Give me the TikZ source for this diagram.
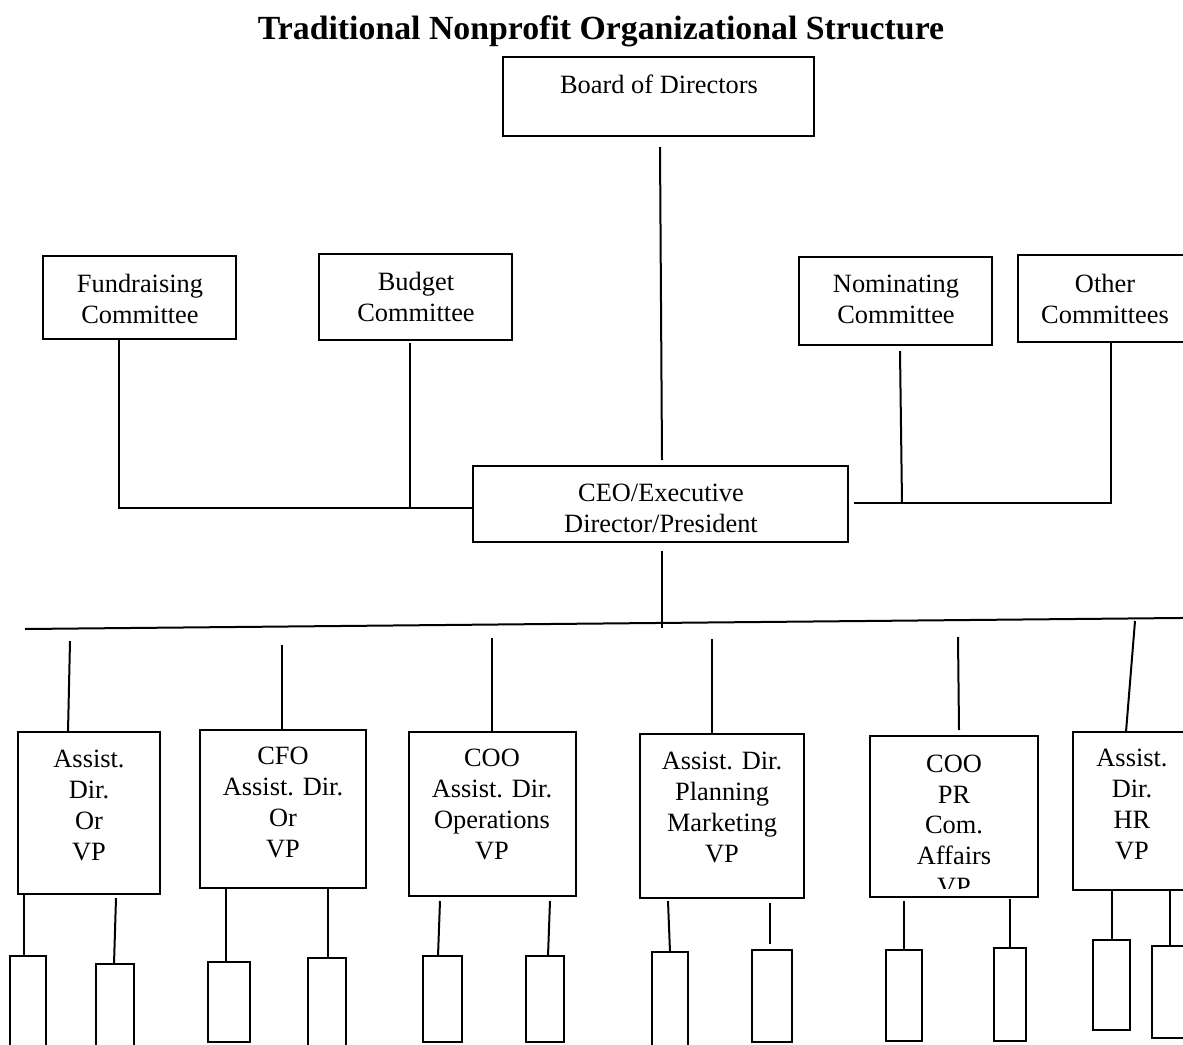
\documentclass[tikz,border=0pt]{standalone}
\usepackage{fontspec}
\setmainfont{Liberation Serif}
\usetikzlibrary{fit}
\begin{document}
\begin{tikzpicture}[x=0.5pt,y=-0.5pt,
  box/.style={draw,line width=1pt,inner sep=0pt,rectangle},
  lbl/.style={font=\fontsize{13.2}{15.4}\selectfont,align=center,inner sep=0pt},
  ttl/.style={font=\fontsize{16.9}{19.3}\selectfont\bfseries,inner sep=0pt},
  conn/.style={line width=1pt}]
\fill[white] (0,0) rectangle (1183,1044);
\clip (0,0) rectangle (1183,1044);
% title
\node[ttl] (title) at (601,32) {\strut Traditional Nonprofit Organizational Structure};
% top boxes
\node[box,fit={(503,57) (814,136)}] (board) {};
\node[box,fit={(43,256) (236,339)}] (fund) {};
\node[box,fit={(319,254) (512,340)}] (budget) {};
\node[box,fit={(799,257) (992,345)}] (nom) {};
\node[box,fit={(1018,255) (1200,342)}] (other) {};
\node[box,fit={(473,466) (848,542)}] (ceo) {};
\node[lbl] (boardT) at (659,87.5) {\strut Board of Directors};
\node[lbl] (fundT) at (140,301.5) {\strut Fundraising\\\strut Committee};
\node[lbl] (budgetT) at (416,300) {\strut Budget\\\strut Committee};
\node[lbl] (nomT) at (896,301.5) {\strut Nominating\\\strut Committee};
\node[lbl] (otherT) at (1105,301.5) {\strut Other\\\strut Committees};
\node[lbl] (ceoT) at (661,510.5) {\strut CEO/Executive\\\strut Director/President};
% VP boxes
\node[box,fit={(18,732) (160,894)}] (b1) {};
\node[box,fit={(200,730) (366,888)}] (b2) {};
\node[box,fit={(409,732) (576,896)}] (b3) {};
\node[box,fit={(640,734) (804,898)}] (b4) {};
\node[box,fit={(870,736) (1038,897)}] (b5) {};
\node[box,fit={(1073,732) (1215,890)}] (b6) {};
\node[lbl] (b1T) at (89,808) {\strut Assist.\\\strut Dir.\\\strut Or\\\strut VP};
\node[lbl] (b2T) at (283,805) {\strut CFO\\\strut Assist. Dir.\\\strut Or\\\strut VP};
\node[lbl] (b3T) at (492,807) {\strut COO\\\strut Assist. Dir.\\\strut Operations\\\strut VP};
\node[lbl] (b4T) at (722,810) {\strut Assist. Dir.\\\strut Planning\\\strut Marketing\\\strut VP};
\begin{scope}
\clip (872,738) rectangle (1036,888);
\node[lbl] (b5T) at (954,827.7) {\strut COO\\\strut PR\\\strut Com.\\\strut Affairs\\\strut VP};
\end{scope}
\node[lbl] (b6T) at (1132,807) {\strut Assist.\\\strut Dir.\\\strut HR\\\strut VP};
% small boxes
\node[box,fit={(10,956) (46,1048)}] (s1a) {};
\node[box,fit={(96,964) (134,1048)}] (s1b) {};
\node[box,fit={(208,962) (250,1042)}] (s2a) {};
\node[box,fit={(308,958) (346,1048)}] (s2b) {};
\node[box,fit={(423,956) (462,1042)}] (s3a) {};
\node[box,fit={(526,956) (564,1042)}] (s3b) {};
\node[box,fit={(652,952) (688,1048)}] (s4a) {};
\node[box,fit={(752,950) (792,1042)}] (s4b) {};
\node[box,fit={(886,950) (922,1041)}] (s5a) {};
\node[box,fit={(994,948) (1026,1041)}] (s5b) {};
\node[box,fit={(1093,940) (1130,1030)}] (s6a) {};
\node[box,fit={(1152,946) (1215,1038)}] (s6b) {};
% connector end points
\coordinate (boardD) at (660,147);
\coordinate (ceoU) at (662,460);
\coordinate (fundD) at (119,339);
\coordinate (fundJ) at (119,508);
\coordinate (budgetD) at (410,343);
\coordinate (budgetJ) at (410,508);
\coordinate (nomD) at (900,351);
\coordinate (nomJ) at (902,503);
\coordinate (otherD) at (1111,342);
\coordinate (otherJ) at (1111,503);
\coordinate (ceoR) at (854,503);
\coordinate (ceoD) at (662,551);
\coordinate (busJ) at (662,628);
\coordinate (busL) at (25,629);
\coordinate (busR) at (1190,617.9);
\coordinate (v1) at (70,641);
\coordinate (v2) at (282,645);
\coordinate (v3) at (492,638);
\coordinate (v4) at (712,639);
\coordinate (v5) at (958,637);
\coordinate (v5e) at (959,730);
\coordinate (v6) at (1135,621);
\coordinate (b1a) at (24,894);
\coordinate (b1b) at (116,898);
\coordinate (b2a) at (226,888);
\coordinate (b2b) at (328,888);
\coordinate (b3a) at (440,901);
\coordinate (b3b) at (550,901);
\coordinate (b4a) at (668,901);
\coordinate (b4b) at (770,903);
\coordinate (b4be) at (770,944);
\coordinate (b5a) at (904,901);
\coordinate (b5b) at (1010,899);
\coordinate (b6a) at (1112,890);
\coordinate (b6b) at (1170,890);
% connectors
\draw[conn] (boardD) -- (ceoU);
\draw[conn] (fundD) -- (fundJ) -- (ceo.west |- fundJ);
\draw[conn] (budgetD) -- (budgetJ);
\draw[conn] (nomD) -- (nomJ);
\draw[conn] (otherD) -- (otherJ) -- (ceoR);
\draw[conn] (ceoD) -- (busJ);
\draw[conn] (busL) -- (busR);
\draw[conn] (v1) -- (68,732);
\draw[conn] (v2) -- (b2.north -| v2);
\draw[conn] (v3) -- (b3.north -| v3);
\draw[conn] (v4) -- (b4.north -| v4);
\draw[conn] (v5) -- (v5e);
\draw[conn] (v6) -- (1126,732);
\draw[conn] (b1a) -- (s1a.north -| b1a);
\draw[conn] (b1b) -- (114,964);
\draw[conn] (b2a) -- (s2a.north -| b2a);
\draw[conn] (b2b) -- (s2b.north -| b2b);
\draw[conn] (b3a) -- (438,956);
\draw[conn] (b3b) -- (548,956);
\draw[conn] (b4a) -- (670,952);
\draw[conn] (b4b) -- (b4be);
\draw[conn] (b5a) -- (s5a.north -| b5a);
\draw[conn] (b5b) -- (s5b.north -| b5b);
\draw[conn] (b6a) -- (s6a.north -| b6a);
\draw[conn] (b6b) -- (s6b.north -| b6b);
\end{tikzpicture}
\end{document}
